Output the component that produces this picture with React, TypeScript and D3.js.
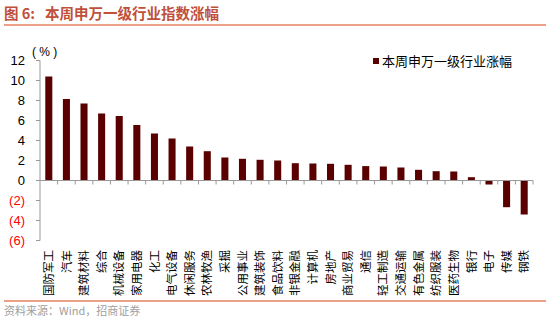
import React from "react";
import * as d3 from "d3";

const categories = ["国防军工","汽车","建筑材料","综合","机械设备","家用电器","化工","电气设备","休闲服务","农林牧渔","采掘","公用事业","建筑装饰","食品饮料","非银金融","计算机","房地产","商业贸易","通信","轻工制造","交通运输","有色金属","纺织服装","医药生物","银行","电子","传媒","钢铁"];
const values = [10.4,8.15,7.7,6.7,6.45,5.55,4.7,4.2,3.4,2.93,2.3,2.17,2.07,2.0,1.73,1.7,1.67,1.57,1.44,1.4,1.3,1.07,0.93,0.9,0.33,-0.4,-2.67,-3.4];
const yTicks = [12,10,8,6,4,2,0,-2,-4,-6];
const seriesName = "本周申万一级行业涨幅";
const figLabel = "图 6:";
const title = "本周申万一级行业指数涨幅";
const source = "资料来源：Wind，招商证券";

export default function App() {
  const W = 550, H = 321;
  const x0 = 40, x1 = 533;
  const y = d3.scaleLinear().domain([-6, 12]).range([240.5, 60.5]);
  const x = d3.scaleBand().domain(categories).range([x0, x1]).paddingInner(0.6).paddingOuter(0.3);
  const xb = d3.scaleBand().domain(categories).range([x0, x1]);
  const fmt = (v: number) => (v < 0 ? `(${Math.abs(v)})` : `${v}`);
  const sans = "Arial, 'Liberation Sans', sans-serif";
  const cjk = "'Noto Sans CJK SC', sans-serif";
  const barColor = "#5a0000";
  const axisColor = "#999999";
  return (
    <svg width={W} height={H} style={{ position: "absolute", left: 0, top: 0, background: "#fff" }}>
      <text x={4} y={19} fontFamily={cjk} fontWeight="bold" fontSize={14.5} fill="#c0503a">{figLabel}</text>
      <text x={45} y={19} fontFamily={cjk} fontWeight="bold" fontSize={14.5} fill="#c0503a">{title}</text>
      <line x1={4} x2={546} y1={25} y2={25} stroke="#e6825f" strokeWidth={1.5} />
      {/* y axis */}
      <line x1={x0} x2={x0} y1={y(12)} y2={y(-6)} stroke={axisColor} />
      {yTicks.map((t) => (
        <g key={t}>
          <line x1={x0 - 4} x2={x0} y1={y(t)} y2={y(t)} stroke={axisColor} />
          <text x={25} y={y(t)} dy="0.36em" textAnchor="end" fontFamily={sans} fontSize={13} fill={t < 0 ? "#ff0000" : "#000"}>{fmt(t)}</text>
        </g>
      ))}
      <text x={32} y={56} fontFamily={sans} fontSize={12} fill="#000">( % )</text>
      {/* bars */}
      {categories.map((c, i) => {
        const v = values[i];
        const top = y(Math.max(0, v));
        const h = Math.abs(y(v) - y(0));
        return <rect key={c} x={x(c)} y={top} width={x.bandwidth()} height={h} fill={barColor} />;
      })}
      {/* x axis */}
      <line x1={x0} x2={x1} y1={y(0)} y2={y(0)} stroke={axisColor} />
      {categories.map((c) => (
        <line key={"t" + c} x1={(xb(c) as number) + xb.bandwidth()} x2={(xb(c) as number) + xb.bandwidth()} y1={y(0)} y2={y(0) + 4} stroke={axisColor} />
      ))}
      {categories.map((c) => {
        const cx = (xb(c) as number) + xb.bandwidth() / 2;
        return (
          <text key={"l" + c} transform={`translate(${cx},250) rotate(-90)`} textAnchor="end" dy="0.36em" fontFamily={cjk} fontSize={11.5} fill="#000">{c}</text>
        );
      })}
      {/* legend */}
      <rect x={373} y={58} width={6} height={6} fill={barColor} />
      <text x={382} y={61} dy="0.36em" fontFamily={cjk} fontSize={13} fill="#000">{seriesName}</text>
      <line x1={4} x2={546} y1={301} y2={301} stroke="#e6825f" strokeWidth={1.5} />
      <text x={4} y={315} fontFamily={cjk} fontSize={11} fill="#a0a0a0">{source}</text>
    </svg>
  );
}
